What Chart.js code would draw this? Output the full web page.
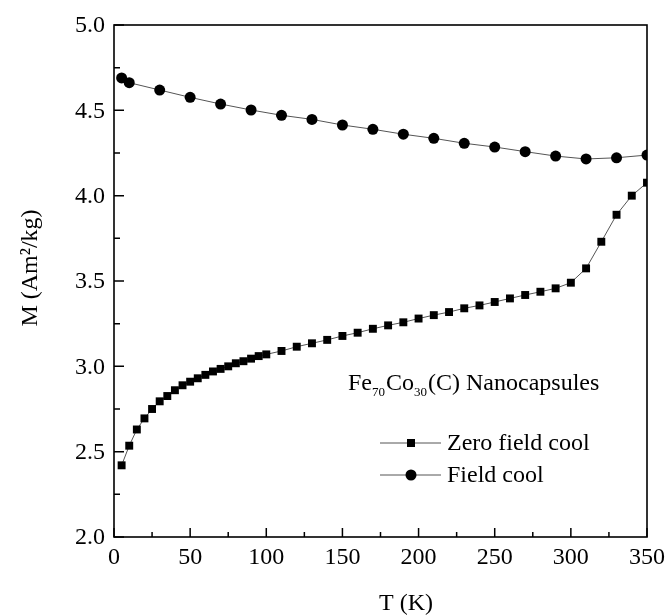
<!DOCTYPE html>
<html>
<head>
<meta charset="utf-8">
<script src="https://cdn.jsdelivr.net/npm/chart.js@4.4.1/dist/chart.umd.min.js"></script>
<style>
  html, body { margin: 0; padding: 0; background: #ffffff; }
  #wrap { width: 667px; height: 616px; position: relative; }
</style>
</head>
<body>
<div id="wrap"><canvas id="c" width="667" height="616"></canvas></div>
<script>
// ---- Data ----
const tempZFC = [5, 10, 15, 20, 25, 30, 35, 40, 45, 50, 55, 60, 65, 70, 75, 80, 85, 90, 95, 100,
                 110, 120, 130, 140, 150, 160, 170, 180, 190, 200, 210, 220, 230, 240, 250,
                 260, 270, 280, 290, 300, 310, 320, 330, 340, 350];
const magZFC  = [2.42, 2.535, 2.63, 2.695, 2.75, 2.795, 2.826, 2.86, 2.889, 2.91, 2.93, 2.95, 2.97, 2.985, 3.00, 3.018, 3.03, 3.045, 3.06, 3.07,
                 3.09, 3.115, 3.135, 3.155, 3.178, 3.197, 3.22, 3.24, 3.258, 3.28, 3.30, 3.318, 3.34, 3.357, 3.377,
                 3.398, 3.418, 3.437, 3.457, 3.49, 3.574, 3.73, 3.888, 4.0, 4.076];
const tempFC = [5, 10, 30, 50, 70, 90, 110, 130, 150, 170, 190, 210, 230, 250, 270, 290, 310, 330, 350];
const magFC  = [4.69, 4.662, 4.619, 4.576, 4.537, 4.502, 4.471, 4.447, 4.414, 4.389, 4.36, 4.336, 4.307, 4.285, 4.258, 4.232, 4.215, 4.222, 4.238];
const seriesNames = ["Zero field cool", "Field cool"];
const xTickValues = [0, 50, 100, 150, 200, 250, 300, 350];
const yTickValues = [2.0, 2.5, 3.0, 3.5, 4.0, 4.5, 5.0];
const xTitle = "T (K)";
const yTitle = "M (Am\u00B2/kg)";
const annotationParts = [["Fe", false], ["70", true], ["Co", false], ["30", true], ["(C) Nanocapsules", false]];

const FONT = '"Liberation Serif", "Times New Roman", serif';

function toPoints(xs, ys) { return xs.map((x, i) => ({ x: x, y: ys[i] })); }

const decorPlugin = {
  id: 'decor',
  afterDraw(chart) {
    const ctx = chart.ctx;
    const a = chart.chartArea;
    const xs = chart.scales.x, ys = chart.scales.y;
    ctx.save();
    // frame
    ctx.strokeStyle = '#000';
    ctx.lineWidth = 1.6;
    ctx.strokeRect(a.left, a.top, a.right - a.left, a.bottom - a.top);
    // inward ticks: bottom axis
    ctx.lineWidth = 1.5;
    ctx.beginPath();
    for (let v = 0; v <= 350; v += 25) {
      const px = xs.getPixelForValue(v);
      const len = (v % 50 === 0) ? 9 : 5;
      ctx.moveTo(px, a.bottom);
      ctx.lineTo(px, a.bottom - len);
    }
    // inward ticks: left axis
    for (let k = 0; k <= 12; k++) {
      const v = 2 + k * 0.25;
      const py = ys.getPixelForValue(v);
      const len = (k % 2 === 0) ? 10 : 6;
      ctx.moveTo(a.left, py);
      ctx.lineTo(a.left + len, py);
    }
    ctx.stroke();

    // tick labels
    ctx.fillStyle = '#000';
    ctx.font = '24px ' + FONT;
    ctx.textAlign = 'center';
    ctx.textBaseline = 'middle';
    xTickValues.forEach(v => {
      ctx.fillText(String(v), xs.getPixelForValue(v), a.bottom + 21);
    });
    ctx.textAlign = 'right';
    yTickValues.forEach(v => {
      ctx.fillText(v.toFixed(1), a.left - 9, ys.getPixelForValue(v) + 1);
    });

    // axis titles
    ctx.textAlign = 'center';
    ctx.fillText(xTitle, 406, 604);
    ctx.save();
    ctx.translate(31, 268);
    ctx.rotate(-Math.PI / 2);
    ctx.fillText(yTitle, 0, 0);
    ctx.restore();

    // annotation with subscripts
    ctx.textAlign = 'left';
    ctx.textBaseline = 'alphabetic';
    let x = 348;
    const base = 390;
    annotationParts.forEach(([txt, sub]) => {
      ctx.font = (sub ? '13px ' : '24px ') + FONT;
      ctx.fillText(txt, x, sub ? base + 6 : base);
      x += ctx.measureText(txt).width + (sub ? 1 : 0);
    });

    // legend
    const rows = [443, 475];
    chart.data.datasets.forEach((ds, i) => {
      const y = rows[i];
      ctx.strokeStyle = ds.borderColor;
      ctx.lineWidth = 1;
      ctx.beginPath();
      ctx.moveTo(380, y);
      ctx.lineTo(441, y);
      ctx.stroke();
      ctx.fillStyle = ds.pointBackgroundColor;
      if (ds.pointStyle === 'rect') {
        ctx.fillRect(411 - 4, y - 4, 8, 8);
      } else {
        ctx.beginPath();
        ctx.arc(411, y, 5.5, 0, Math.PI * 2);
        ctx.fill();
      }
      ctx.fillStyle = '#000';
      ctx.font = '24px ' + FONT;
      ctx.textBaseline = 'middle';
      ctx.fillText(ds.label, 447, y + 1);
    });
    ctx.restore();
  }
};

new Chart(document.getElementById('c'), {
  type: 'scatter',
  data: {
    datasets: [
      {
        label: seriesNames[0],
        data: toPoints(tempZFC, magZFC),
        showLine: true,
        borderColor: '#555',
        borderWidth: 1,
        pointStyle: 'rect',
        pointRadius: 5.6,
        pointBackgroundColor: '#000',
        pointBorderColor: '#000',
        pointBorderWidth: 0,
        tension: 0
      },
      {
        label: seriesNames[1],
        data: toPoints(tempFC, magFC),
        showLine: true,
        borderColor: '#555',
        borderWidth: 1,
        pointStyle: 'circle',
        pointRadius: 5.5,
        pointBackgroundColor: '#000',
        pointBorderColor: '#000',
        pointBorderWidth: 0,
        tension: 0
      }
    ]
  },
  options: {
    responsive: false,
    animation: false,
    devicePixelRatio: 1,
    layout: { padding: { top: 25, right: 20, left: 0, bottom: 0 } },
    plugins: { legend: { display: false }, tooltip: { enabled: false } },
    scales: {
      x: {
        type: 'linear',
        min: 0, max: 350,
        afterBuildTicks: (s) => { s.ticks = xTickValues.map(v => ({ value: v })); },
        ticks: { display: false },
        grid: { display: false, drawTicks: false },
        border: { display: false },
        afterFit: (s) => { s.height = 79; }
      },
      y: {
        type: 'linear',
        min: 2, max: 5,
        afterBuildTicks: (s) => { s.ticks = yTickValues.map(v => ({ value: v })); },
        ticks: { display: false },
        grid: { display: false, drawTicks: false },
        border: { display: false },
        afterFit: (s) => { s.width = 114; }
      }
    }
  },
  plugins: [decorPlugin]
});
</script>
</body>
</html>
